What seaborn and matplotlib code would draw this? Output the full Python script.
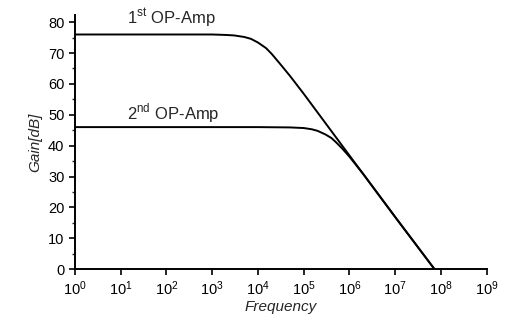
import seaborn as sns
import numpy as np
import matplotlib.pyplot as plt
import pandas as pd
from matplotlib.ticker import MultipleLocator, FixedLocator

# values
freq_1 = [1, 10, 100, 1e3, 2e3, 3e3, 5e3, 7e3, 1e4, 1.5e4, 2e4, 3e4, 5e4,
          1e5, 1e6, 1e7, 7.2e7]
gain_1 = [76, 76, 76, 76, 75.85, 75.7, 75.2, 74.6, 73.4, 71.6, 69.7, 66.6, 62.6,
          56.8, 36.8, 16.8, 0]

freq_2 = [1, 10, 100, 1e3, 1e4, 5e4, 1e5, 1.5e5, 2e5, 3e5, 4e5, 5e5, 7e5,
          1e6, 2e6, 3e6, 1e7, 7.2e7]
gain_2 = [46, 46, 46, 46, 46, 45.9, 45.7, 45.3, 44.8, 43.6, 42.5, 41.2, 39.0,
          36.4, 30.8, 27.3, 16.9, 0]

labels = ["1$^{\\mathrm{st}}$ OP-Amp", "2$^{\\mathrm{nd}}$ OP-Amp"]
label_pos = [(14, 79.3), (14, 48.6)]

df = pd.concat([
    pd.DataFrame({"freq": freq_1, "gain": gain_1, "amp": labels[0]}),
    pd.DataFrame({"freq": freq_2, "gain": gain_2, "amp": labels[1]}),
])

sns.set_style("ticks")
plt.rcParams['font.family'] = ['Liberation Sans', 'DejaVu Sans']
plt.rcParams['mathtext.fontset'] = 'custom'
plt.rcParams['mathtext.rm'] = 'Liberation Sans'

fig = plt.figure(figsize=(5.06, 3.27), dpi=100)
ax = fig.add_axes([0.148, 0.177, 0.814, 0.777])

sns.lineplot(data=df, x="freq", y="gain", hue="amp", palette=["black", "black"],
             linewidth=1.4, legend=False, ax=ax, estimator=None, sort=False)

ax.set_xscale("log")
ax.set_xlim(1, 1e9)
ax.set_ylim(0, 82.3)
ax.xaxis.set_major_locator(FixedLocator([10.0 ** i for i in range(10)]))
ax.xaxis.set_minor_locator(FixedLocator([]))
ax.yaxis.set_major_locator(MultipleLocator(10))
ax.yaxis.set_minor_locator(MultipleLocator(5))
ax.tick_params(axis="both", which="major", direction="out", length=4, width=1.2,
               labelsize=10.5, colors="black")
ax.tick_params(axis="y", which="minor", direction="out", length=2, width=1)

for s in ["top", "right"]:
    ax.spines[s].set_visible(False)
for s in ["left", "bottom"]:
    ax.spines[s].set_linewidth(1.4)
    ax.spines[s].set_color("black")

# curve labels
for txt, (x, y) in zip(labels, label_pos):
    ax.text(x, y, txt, fontsize=12, ha="left", va="baseline")

ax.set_xlabel("Frequency", fontsize=11, style="italic", labelpad=1)
ax.set_ylabel("Gain[dB]", fontsize=11, style="italic", labelpad=4)

plt.savefig("out.png", dpi=100)
